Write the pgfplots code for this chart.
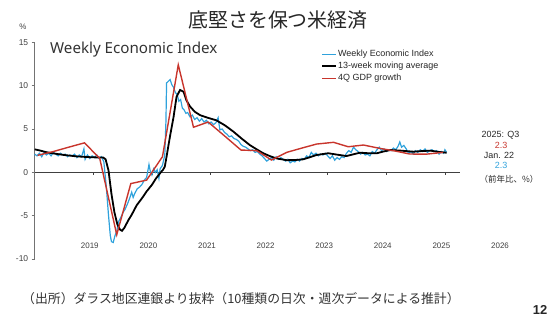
\documentclass[border=0pt]{standalone}
\usepackage{fontspec}
\setmainfont{Liberation Sans}
\newfontfamily\cjk{Noto Sans CJK JP}
\newfontfamily\noto{Noto Sans}
\usepackage{pgfplots}
\pgfplotsset{compat=1.18}
\definecolor{wblue}{HTML}{2FA2DC}
\definecolor{gred}{HTML}{C8352C}
\definecolor{txt}{HTML}{404040}
\begin{document}
\begin{tikzpicture}
\useasboundingbox (0,0) rectangle (557bp,322bp);
\begin{axis}[
 at={(34.7bp,63bp)}, anchor=south west,
 scale only axis, width=498.1bp, height=216.7bp,
 xmin=2018, xmax=2026.5, ymin=-10, ymax=15,
 axis y line*=left, axis x line*=bottom,
 x axis line style={draw=none},
 y axis line style={draw=black!55, line width=0.8bp},
 xtick={2019,2020,2021,2022,2023,2024,2025,2026},
 xticklabels={2019,2020,2021,2022,2023,2024,2025,2026},
 major x tick style={draw=none},
 xtick align=inside,
 xticklabel style={anchor=center, yshift=13bp, xshift=-3.5bp, font=\fontsize{8}{9}\selectfont},
 ytick={-10,-5,0,5,10,15},
 ytick align=outside,
 major tick length=3bp,
 major y tick style={draw=black!55, line width=0.7bp},
 yticklabel style={font=\fontsize{8.5}{9}\selectfont},
 tick label style={text=txt},
 /pgf/number format/assume math mode=true,
 legend style={at={(0.575,0.97)}, anchor=north west, draw=none, fill=none,
   font=\fontsize{9}{10}\selectfont, text=black!85, row sep=1.5pt, inner sep=0pt,
   nodes={inner sep=1pt, text height=6.5bp, text depth=2bp}},
 legend cell align=left,
 legend image code/.code={\draw[#1] (0bp,0bp) -- (14bp,0bp);},
 clip=false,
]
\addplot[black!75, line width=0.7bp, forget plot] coordinates {(2018,0) (2025.26,0)};
\addplot[ycomb, black!75, line width=0.6bp, forget plot, no marks] coordinates {(2019,-0.3)(2020,-0.3)(2021,-0.3)(2022,-0.3)(2023,-0.3)(2024,-0.3)(2025,-0.3)};
\addplot[wblue, line width=1.2bp] coordinates {
(2018.00,2.1)(2018.04,1.9)(2018.08,2.2)(2018.12,1.8)(2018.16,2.3)(2018.20,2.0)(2018.24,2.2)(2018.28,1.9)(2018.32,2.3)(2018.36,2.1)(2018.40,1.9)(2018.44,2.2)(2018.48,2.0)(2018.52,2.1)(2018.56,1.8)(2018.60,2.0)(2018.64,1.9)(2018.68,2.1)(2018.72,1.7)(2018.76,2.0)(2018.80,1.8)(2018.84,2.7)(2018.86,1.5)(2018.90,2.0)(2018.94,1.6)(2018.98,1.9)(2019.02,1.7)(2019.06,2.0)(2019.10,1.6)(2019.14,1.8)(2019.18,1.2)(2019.22,-1.5)(2019.26,-5.0)(2019.29,-7.3)(2019.31,-8.0)(2019.34,-8.1)(2019.37,-7.3)(2019.40,-6.8)(2019.43,-5.7)(2019.47,-5.2)(2019.51,-4.6)(2019.54,-4.3)(2019.58,-3.7)(2019.62,-3.0)(2019.655,-2.3)(2019.68,-2.9)(2019.71,-2.4)(2019.75,-1.9)(2019.79,-1.7)(2019.83,-1.4)(2019.87,-0.9)(2019.91,-0.6)(2019.95,0.9)(2019.97,0.2)(2020.00,-0.3)(2020.03,0.4)(2020.06,0.0)(2020.09,0.3)(2020.12,-0.7)(2020.14,0.4)(2020.18,0.8)(2020.22,2.0)(2020.24,6.0)(2020.25,10.3)(2020.28,10.5)(2020.31,10.7)(2020.34,10.1)(2020.37,9.8)(2020.40,9.2)(2020.43,9.0)(2020.46,8.2)(2020.49,8.4)(2020.52,7.4)(2020.55,7.2)(2020.58,6.8)(2020.61,6.9)(2020.65,6.4)(2020.69,6.6)(2020.73,6.1)(2020.77,6.3)(2020.81,5.9)(2020.85,6.2)(2020.89,5.8)(2020.93,6.0)(2020.97,5.6)(2021.01,5.8)(2021.05,5.5)(2021.09,5.7)(2021.13,6.3)(2021.16,4.9)(2021.20,5.0)(2021.24,4.6)(2021.28,4.4)(2021.32,4.1)(2021.36,4.2)(2021.40,3.9)(2021.44,3.8)(2021.48,3.6)(2021.52,3.2)(2021.56,3.0)(2021.60,2.9)(2021.64,2.7)(2021.68,2.5)(2021.72,2.6)(2021.76,2.3)(2021.80,2.4)(2021.84,2.1)(2021.88,1.9)(2021.92,1.6)(2021.96,1.3)(2022.00,1.5)(2022.04,1.7)(2022.08,1.4)(2022.12,1.8)(2022.16,1.5)(2022.20,1.7)(2022.24,1.5)(2022.28,1.3)(2022.32,1.5)(2022.36,1.1)(2022.40,1.3)(2022.44,1.2)(2022.48,1.5)(2022.52,1.3)(2022.56,1.6)(2022.60,1.5)(2022.64,1.9)(2022.68,1.7)(2022.72,2.3)(2022.76,2.0)(2022.80,2.2)(2022.84,1.9)(2022.88,2.1)(2022.92,2.0)(2022.96,2.2)(2023.00,1.9)(2023.04,1.6)(2023.08,1.9)(2023.12,1.4)(2023.16,1.7)(2023.20,1.5)(2023.24,1.8)(2023.28,1.7)(2023.32,2.2)(2023.36,2.5)(2023.40,2.3)(2023.44,2.9)(2023.48,2.6)(2023.52,2.4)(2023.56,2.1)(2023.60,2.3)(2023.64,2.0)(2023.68,2.1)(2023.72,1.9)(2023.76,2.4)(2023.80,2.2)(2023.84,2.6)(2023.88,2.9)(2023.92,2.5)(2023.96,2.7)(2024.00,2.4)(2024.04,2.6)(2024.08,2.5)(2024.12,2.8)(2024.16,2.6)(2024.20,3.0)(2024.23,3.5)(2024.26,2.9)(2024.30,3.1)(2024.34,2.7)(2024.38,2.2)(2024.42,2.4)(2024.46,2.1)(2024.50,2.5)(2024.54,2.3)(2024.58,2.6)(2024.62,2.4)(2024.66,2.7)(2024.70,2.3)(2024.74,2.5)(2024.78,2.6)(2024.82,2.4)(2024.86,2.5)(2024.90,2.1)(2024.94,2.4)(2024.98,2.2)(2025.00,2.6)(2025.03,2.3)
};
\addlegendentry{Weekly Economic Index}
\addplot[black, line width=1.8bp] coordinates {
(2018.00,2.65)(2018.10,2.5)(2018.20,2.32)(2018.35,2.15)(2018.50,2.0)(2018.70,1.85)(2018.90,1.76)(2019.05,1.72)(2019.17,1.7)(2019.21,1.5)(2019.26,0.2)(2019.31,-2.5)(2019.36,-4.6)(2019.41,-6.0)(2019.455,-6.6)(2019.49,-6.75)(2019.53,-6.4)(2019.60,-5.5)(2019.655,-4.9)(2019.74,-3.8)(2019.83,-3.0)(2019.91,-2.2)(2020.00,-1.45)(2020.07,-0.7)(2020.14,-0.1)(2020.19,0.3)(2020.22,0.65)(2020.25,1.8)(2020.31,4.2)(2020.37,6.4)(2020.42,8.7)(2020.48,9.5)(2020.54,9.3)(2020.59,8.3)(2020.65,7.6)(2020.73,7.0)(2020.82,6.6)(2020.95,6.3)(2021.10,6.0)(2021.25,5.4)(2021.39,4.7)(2021.53,3.9)(2021.67,3.15)(2021.80,2.6)(2021.90,2.2)(2022.02,1.85)(2022.13,1.6)(2022.30,1.4)(2022.45,1.42)(2022.58,1.5)(2022.70,1.75)(2022.81,2.0)(2023.01,2.2)(2023.15,2.05)(2023.32,1.88)(2023.45,2.1)(2023.55,2.26)(2023.70,2.2)(2023.84,2.2)(2023.95,2.4)(2024.07,2.57)(2024.25,2.5)(2024.46,2.38)(2024.60,2.45)(2024.75,2.5)(2024.90,2.35)(2025.03,2.26)
};
\addlegendentry{13-week moving average}
\addplot[gred, line width=1.4bp] coordinates {
(2018.05,1.96)(2018.32,2.4)(2018.58,2.9)(2018.85,3.4)(2019.11,1.6)(2019.40,-7.2)(2019.64,-1.3)(2019.91,-0.9)(2020.18,1.8)(2020.45,12.4)(2020.71,5.2)(2020.96,5.8)(2021.24,4.2)(2021.52,2.57)(2021.79,2.5)(2022.04,1.42)(2022.30,2.3)(2022.56,2.8)(2022.81,3.26)(2023.10,3.46)(2023.35,2.95)(2023.61,3.15)(2023.89,2.76)(2024.15,2.46)(2024.40,2.11)(2024.69,2.1)(2024.97,2.3)
};
\addlegendentry{4Q GDP growth}
\end{axis}
\node[font=\cjk\fontsize{20}{24}\selectfont, text=black!85] at (278bp,302bp) {底堅さを保つ米経済};
\node[font=\fontsize{8}{9}\selectfont, text=txt] at (23bp,295bp) {\%};
\node[font=\noto\fontsize{15.2}{17}\selectfont, text=black!80, anchor=base west, inner sep=0pt] at (50bp,268bp) {Weekly Economic Index};
\node[font=\fontsize{9}{10}\selectfont, text=black!85] at (500.5bp,186.3bp) {2025: Q3};
\node[font=\fontsize{9}{10}\selectfont, text=gred] at (501bp,176.3bp) {2.3};
\node[font=\fontsize{9}{10}\selectfont, text=black!85] at (499bp,166.3bp) {Jan. 22};
\node[font=\fontsize{9}{10}\selectfont, text=wblue] at (501bp,156.3bp) {2.3};
\node[font=\cjk\fontsize{8.5}{10}\selectfont, text=black!85] at (509bp,143bp) {（前年比、\%）};
\node[font=\cjk\fontsize{12.9}{14}\selectfont, text=black!80, anchor=west, inner sep=0pt] at (22bp,23bp) {（出所）ダラス地区連銀より抜粋（10種類の日次・週次データによる推計）};
\node[font=\bfseries\fontsize{13}{15}\selectfont, text=black!85] at (540bp,12bp) {12};
\end{tikzpicture}
\end{document}
